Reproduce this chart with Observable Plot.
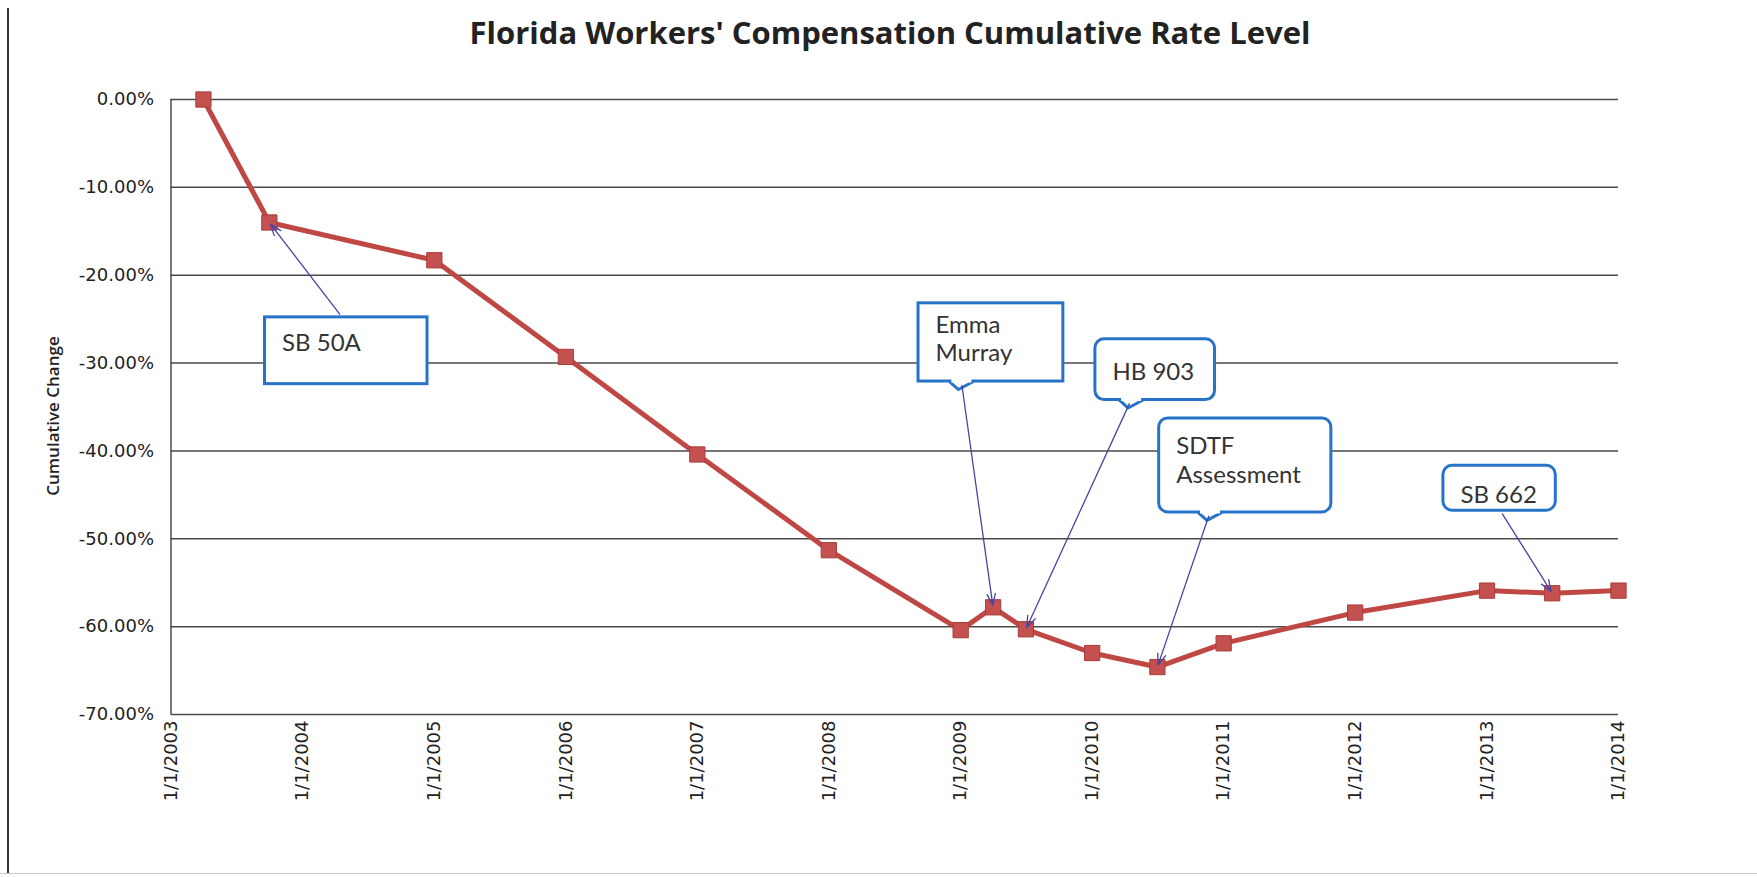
<!DOCTYPE html>
<html><head><meta charset="utf-8">
<script src="https://cdn.jsdelivr.net/npm/d3@7"></script>
<script src="https://cdn.jsdelivr.net/npm/@observablehq/plot@0.6"></script>
<style>
body{margin:0;background:#fff;}
#wrap{position:relative;width:1757px;height:877px;overflow:hidden;background:#fff;}
#title{height:62px;line-height:64px;font-family:"Open Sans";font-weight:700;font-size:31px;color:#222;text-align:center;width:1780px;white-space:nowrap;}
#edge{position:absolute;left:7px;top:8px;height:866px;border-left:2px solid #333;}
#bottom{position:absolute;left:0;top:873px;width:1757px;border-top:1px solid #c8c8c8;}
</style></head><body>
<div id="wrap"><div id="edge"></div><div id="bottom"></div><div id="title">Florida Workers' Compensation Cumulative Rate Level</div><div id="chart"></div></div>
<script>
// ---- data ----
const dates = ["2003-04-01","2003-10-01","2005-01-01","2006-01-01","2007-01-01","2008-01-01","2009-01-01","2009-04-01","2009-07-01","2010-01-01","2010-07-01","2011-01-01","2012-01-01","2013-01-01","2013-07-01","2014-01-01"];
const values = [0, -14.0, -18.3, -29.3, -40.4, -51.3, -60.4, -57.8, -60.3, -63.0, -64.6, -61.9, -58.4, -55.9, -56.2, -55.9];
const yTicks = [0, -10, -20, -30, -40, -50, -60, -70];
const xTickDates = ["2003-01-01","2004-01-01","2005-01-01","2006-01-01","2007-01-01","2008-01-01","2009-01-01","2010-01-01","2011-01-01","2012-01-01","2013-01-01","2014-01-01"];
const xTickLabels = ["1/1/2003","1/1/2004","1/1/2005","1/1/2006","1/1/2007","1/1/2008","1/1/2009","1/1/2010","1/1/2011","1/1/2012","1/1/2013","1/1/2014"];

// ---- annotations (anchored in data units) ----
const noteLabels = ["SB 50A", "Emma\nMurray", "HB 903", "SDTF\nAssessment", "SB 662"];
const noteTarget = [1, 7, 8, 10, 14];
const noteBoxX1 = ["2003-09-19","2008-09-06","2010-01-10","2010-07-06","2012-09-02"];
const noteBoxX2 = ["2004-12-13","2009-10-13","2010-12-08","2011-10-27","2013-07-11"];
const noteBoxTop = [-24.8, -23.2, -27.3, -36.3, -41.7];
const noteBoxBottom = [-32.4, -32.1, -34.2, -47.0, -46.8];
const noteTextTop = [-26.3, -24.2, -29.6, -38.0, -43.6];
const noteRounded = [false, false, true, true, true];
const noteTail = [false, true, true, true, false];
const noteArrowX = ["2004-04-20","2009-01-03","2010-04-19","2010-11-24","2013-02-07"];
const noteArrowY = [-24.8, -32.1, -34.2, -47.0, -46.8];

const parse = s => new Date(s + "T00:00:00Z");
const data = dates.map((d, i) => ({date: parse(d), value: values[i]}));
const notes = noteLabels.map((label, i) => ({
  label, x1: parse(noteBoxX1[i]), x2: parse(noteBoxX2[i]), y1: noteBoxTop[i], y2: noteBoxBottom[i],
  ty0: noteTextTop[i], rounded: noteRounded[i], tail: noteTail[i], ax: parse(noteArrowX[i]), ay: noteArrowY[i],
  tx: data[noteTarget[i]].date, ty: data[noteTarget[i]].value
}));

const fmtPct = v => v.toFixed(2) + "%";
const xLabel = d => xTickLabels[xTickDates.findIndex(t => +parse(t) === +d)];
const BLUE = "#2673c8";

const notch = {draw(ctx) { ctx.moveTo(-12, 0); ctx.lineTo(-3, 8); ctx.lineTo(12, 0); }};
const notchCover = {draw(ctx) { ctx.moveTo(-10, -2.5); ctx.lineTo(10, -2.5); ctx.lineTo(10, 1); ctx.lineTo(-10, 1); ctx.closePath(); }};

const chart = Plot.plot({
  width: 1757, height: 815,
  marginTop: 37, marginBottom: 163, marginLeft: 170.5, marginRight: 139,
  style: {fontFamily: "DejaVu Sans", fontSize: "18px", color: "#222", background: "white"},
  x: {type: "utc", domain: [parse("2003-01-01"), parse("2014-01-01")]},
  y: {domain: [-70, 0]},
  marks: [
    Plot.ruleY(yTicks, {stroke: "#4a4a4a", strokeWidth: 1.5}),
    Plot.ruleX([parse("2003-01-01")], {stroke: "#4a4a4a", strokeWidth: 1.5}),
    Plot.axisY({ticks: yTicks, tickFormat: fmtPct, tickSize: 0, tickPadding: 17, fontSize: 18, label: null}),
    Plot.axisX({ticks: xTickDates.map(parse), tickFormat: xLabel, tickRotate: -90, tickSize: 0, tickPadding: 6, fontSize: 18, label: null}),
    Plot.text(["Cumulative Change"], {frameAnchor: "left", textAnchor: "middle", text: d => d, rotate: -90, dx: -117, dy: 9, fontSize: 17, fontWeight: 600, fontFamily: "Open Sans", fill: "#222"}),
    Plot.line(data, {x: "date", y: "value", stroke: "#bf4744", strokeWidth: 5}),
    Plot.dot(data, {x: "date", y: "value", symbol: "square", r: 8.6, fill: "#c4504f", stroke: "#a63c3a", strokeWidth: 1}),
    Plot.rect(notes.filter(d => !d.rounded), {x1: "x1", x2: "x2", y1: "y1", y2: "y2", fill: "white", stroke: BLUE, strokeWidth: 3}),
    Plot.rect(notes.filter(d => d.rounded), {x1: "x1", x2: "x2", y1: "y1", y2: "y2", fill: "white", stroke: BLUE, strokeWidth: 3, rx: 9}),
    Plot.dot(notes.filter(d => d.tail), {x: "ax", y: "y2", symbol: notch, r: 5, fill: "white", stroke: BLUE, strokeWidth: 3}),
    Plot.dot(notes.filter(d => d.tail), {x: "ax", y: "y2", symbol: notchCover, r: 5, fill: "white", stroke: "none"}),
    Plot.text(notes, {x: "x1", y: "ty0", text: "label", textAnchor: "start", lineAnchor: "top", dx: 17, fontSize: 24, fontFamily: "Lato", fill: "#333", lineHeight: 1.2}),
    Plot.arrow(notes, {x1: "ax", y1: "ay", x2: "tx", y2: "ty", stroke: "#4646a6", strokeWidth: 1.3, headLength: 14, headAngle: 40, insetStart: 4, insetEnd: 2})
  ]
});
document.getElementById("chart").appendChild(chart);
</script>
</body></html>
